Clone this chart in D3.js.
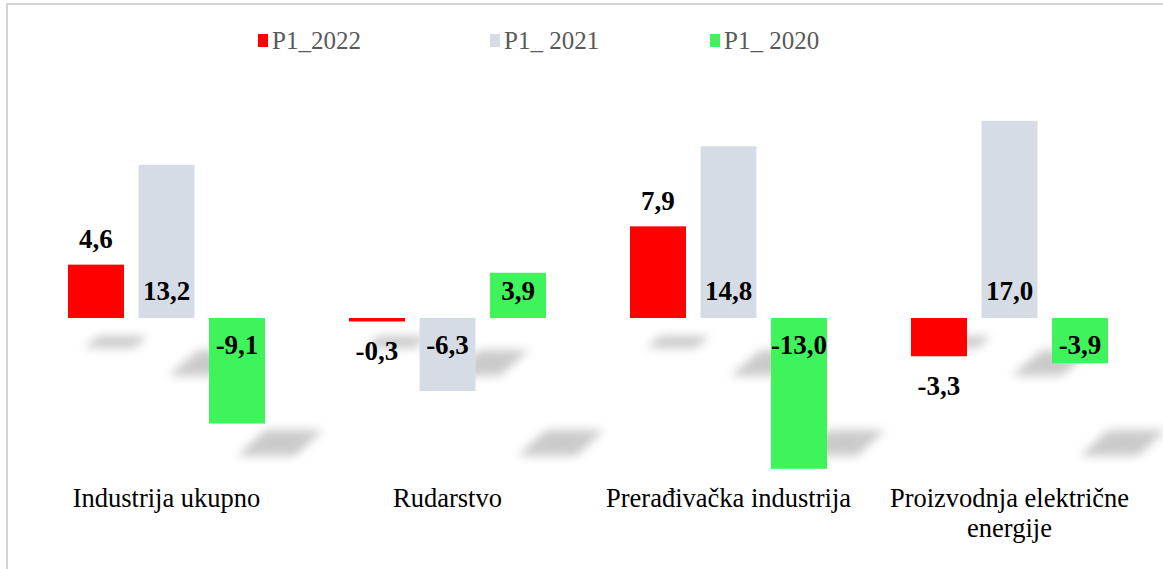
<!DOCTYPE html>
<html>
<head>
<meta charset="utf-8">
<script src="https://cdn.jsdelivr.net/npm/d3@7"></script>
<style>
  html, body { margin: 0; padding: 0; background: #fff; }
  svg { display: block; }
</style>
</head>
<body>
<svg id="chart" width="1163" height="569"></svg>
<script>
// data
const categories = ['Industrija ukupno', 'Rudarstvo', 'Prerađivačka industrija', 'Proizvodnja električne energije'];
const seriesNames = ['P1_2022', 'P1_ 2021', 'P1_ 2020'];
const p1_2022 = [4.6, -0.3, 7.9, -3.3];
const p1_2021 = [13.2, -6.3, 14.8, 17.0];
const p1_2020 = [-9.1, 3.9, -13.0, -3.9];
const seriesValues = [p1_2022, p1_2021, p1_2020];

const colors = ['#ff0000', '#d6dce5', '#3ff45a'];
const fmt = v => v.toFixed(1).replace('.', ',');

const svg = d3.select('#chart');
const serif = "'Liberation Serif', 'Times New Roman', serif";

// chart frame (cut off on right/bottom like the reference)
svg.append('rect')
    .attr('x', 7).attr('y', 4)
    .attr('width', 1300).attr('height', 700)
    .attr('fill', 'none')
    .attr('stroke', '#d4d4d4')
    .attr('stroke-width', 2);

const defs = svg.append('defs');
defs.append('filter').attr('id', 'blur')
    .attr('x', '-50%').attr('y', '-100%').attr('width', '200%').attr('height', '300%')
  .append('feGaussianBlur').attr('stdDeviation', 5);

const x0 = d3.scaleBand().domain(categories).range([26, 1150]);
const x1 = d3.scaleBand().domain(seriesNames).range([42, 239]).paddingInner(0.206);
const y = d3.scaleLinear().domain([-20, 20]).range([550, 86]);
const zero = y(0);

const rows = categories.map((c, i) => ({
    cat: c,
    vals: seriesNames.map((s, j) => ({ key: s, idx: j, value: seriesValues[j][i] }))
}));

// perspective-ish shadows, one style per series
const shadowStyle = [
    { top: 18, bottom: 30, dx: 16, w: 50, skew: 14 },
    { top: 32, bottom: 58, dx: 30, w: 50, skew: 30 },
    { top: 112, bottom: 138, dx: 28, w: 58, skew: 28 }
];

const groups = svg.append('g').selectAll('g')
    .data(rows)
    .join('g')
    .attr('transform', d => `translate(${x0(d.cat)},0)`);

groups.selectAll('path.shadow')
    .data(d => d.vals)
    .join('path')
    .attr('class', 'shadow')
    .attr('d', d => {
        const s = shadowStyle[d.idx];
        const bx = x1(d.key);
        const yt = zero + s.top, yb = zero + s.bottom;
        return `M${bx + s.dx},${yb} L${bx + s.dx + s.w},${yb} L${bx + s.dx + s.w + s.skew},${yt} L${bx + s.dx + s.skew},${yt} Z`;
    })
    .attr('fill', '#a0a0a0')
    .attr('opacity', 0.55)
    .attr('filter', 'url(#blur)');

groups.selectAll('rect')
    .data(d => d.vals)
    .join('rect')
    .attr('x', d => x1(d.key))
    .attr('width', x1.bandwidth())
    .attr('y', d => y(Math.max(0, d.value)))
    .attr('height', d => Math.abs(y(d.value) - zero))
    .attr('fill', d => colors[d.idx]);

// data labels: first series outside end, the others inside base
groups.selectAll('text.val')
    .data(d => d.vals)
    .join('text')
    .attr('class', 'val')
    .attr('x', d => x1(d.key) + x1.bandwidth() / 2)
    .attr('y', d => {
        if (d.idx === 0) return d.value >= 0 ? y(d.value) - 26 : y(d.value) + 29;
        return d.value >= 0 ? zero - 27 : zero + 27;
    })
    .attr('dy', '0.35em')
    .attr('text-anchor', 'middle')
    .attr('font-family', serif)
    .attr('font-weight', 'bold')
    .attr('font-size', 27)
    .attr('fill', '#000')
    .text(d => fmt(d.value));

// category axis
const xAxis = svg.append('g')
    .attr('transform', 'translate(0,480)')
    .call(d3.axisBottom(x0).tickSize(0).tickPadding(0));
xAxis.select('.domain').remove();
xAxis.selectAll('text')
    .attr('font-family', serif)
    .attr('font-size', 26.5)
    .attr('fill', '#000')
    .attr('y', null)
    .attr('dy', null)
    .each(function () {
        const t = d3.select(this);
        const words = t.text().split(' ');
        t.text(null);
        let line = [];
        let lineNo = 0;
        let tspan = t.append('tspan').attr('x', 0).attr('y', 27);
        for (const w of words) {
            line.push(w);
            tspan.text(line.join(' '));
            if (tspan.node().getComputedTextLength() > 265 && line.length > 1) {
                line.pop();
                tspan.text(line.join(' '));
                line = [w];
                lineNo++;
                tspan = t.append('tspan').attr('x', 0).attr('y', 27 + lineNo * 30).text(w);
            }
        }
    });

// legend
const legendX = [258, 490, 710];
const legend = svg.append('g').selectAll('g')
    .data(seriesNames)
    .join('g')
    .attr('transform', (d, i) => `translate(${legendX[i]},40)`);
legend.append('rect')
    .attr('x', 0).attr('y', -6)
    .attr('width', 10).attr('height', 13)
    .attr('fill', (d, i) => colors[i]);
legend.append('text')
    .attr('x', 14)
    .attr('dy', '0.35em')
    .attr('font-family', serif)
    .attr('font-size', 25)
    .attr('fill', '#595959')
    .text(d => d);
</script>
</body>
</html>
